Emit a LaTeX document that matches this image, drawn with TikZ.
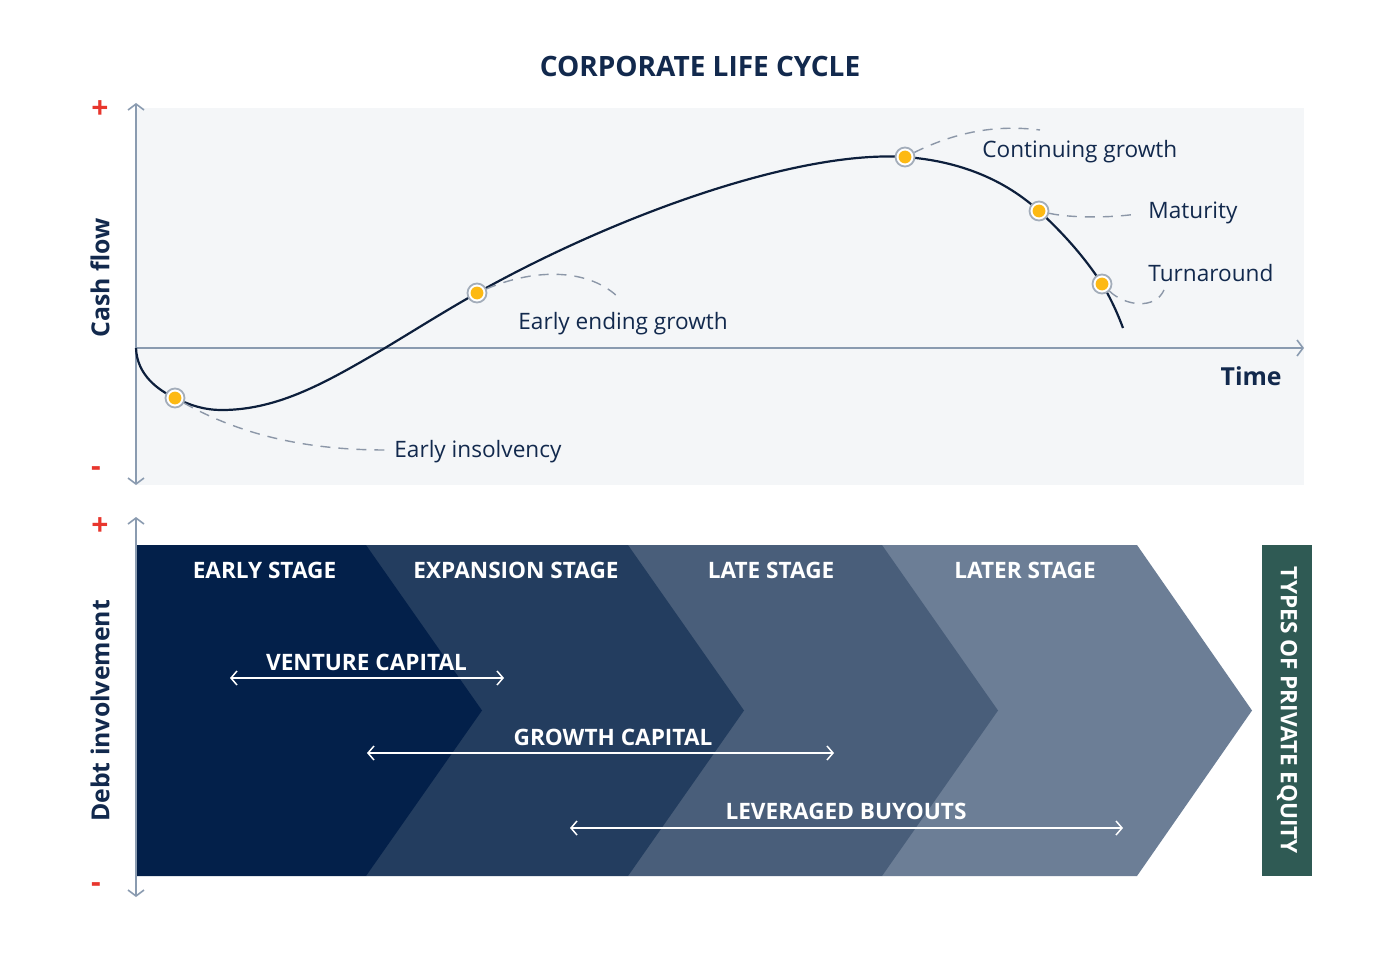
\documentclass[tikz,border=0pt]{standalone}
\usepackage{fontspec}
\setmainfont{Open Sans}
\usetikzlibrary{arrows.meta}
\definecolor{navy}{HTML}{12294D}
\definecolor{curvecol}{HTML}{0D1F3C}
\definecolor{panel}{HTML}{F4F6F8}
\definecolor{axiscol}{HTML}{8A9BB0}
\definecolor{dashcol}{HTML}{8C97A8}
\definecolor{plusred}{HTML}{E8362D}
\definecolor{dotyellow}{HTML}{FDB913}
\definecolor{dotring}{HTML}{A3ADBA}
\definecolor{stageA}{HTML}{03204A}
\definecolor{stageB}{HTML}{233D5F}
\definecolor{stageC}{HTML}{495E7A}
\definecolor{stageD}{HTML}{6C7E96}
\definecolor{peqgreen}{HTML}{2F5A54}
\tikzset{
  axisline/.style={draw=axiscol, line width=0.8pt, {Straight Barb[length=3pt,width=8pt]}-{Straight Barb[length=3pt,width=8pt]}},
  haxis/.style={draw=axiscol, line width=0.8pt, -{Straight Barb[length=3pt,width=8pt]}},
  lifedot/.style={circle, draw=dotring, fill=white, line width=0.9pt, minimum size=9.5pt, inner sep=0pt,
     path picture={\fill[dotyellow] (path picture bounding box.center) circle (3.2pt);}},
  leader/.style={draw=dashcol, line width=0.7pt, dash pattern=on 5pt off 4pt},
  lbl/.style={font=\fontsize{11.3}{13}\selectfont, text=navy, inner sep=0pt, anchor=west},
  axlbl/.style={font=\fontsize{12.4}{14}\selectfont\bfseries, text=navy, inner sep=0pt},
  sign/.style={font=\fontsize{15}{17}\selectfont\bfseries, text=plusred, inner sep=0pt},
  stagelbl/.style={font=\fontsize{11.3}{13}\selectfont\bfseries, text=white, inner sep=0pt},
  span/.style={draw=white, line width=0.75pt, {Straight Barb[length=3pt,width=7pt]}-{Straight Barb[length=3pt,width=7pt]}},
}
\begin{document}
\begin{tikzpicture}[x=0.5pt,y=-0.5pt]
\useasboundingbox (0,0) rectangle (1400,957);
\fill[white] (0,0) rectangle (1400,957);

% title
\node[font=\fontsize{14}{17}\selectfont\bfseries, text=navy, inner sep=0pt] (title) at (700,66) {CORPORATE LIFE CYCLE};

% ---------- top panel ----------
\fill[panel] (136,108) rectangle (1304,485);
\coordinate (vt1) at (136,103);
\coordinate (vb1) at (136,485);
\coordinate (hl) at (136,348);
\coordinate (hr) at (1304,348);
\draw[axisline] (vt1) -- (vb1);
\draw[haxis] (hl) -- (hr);

\node[sign] (p1) at (100,110) {+};
\node[sign] (m1) at (96,472) {-};
\node[axlbl, rotate=90] (cash) at (100,278) {Cash flow};
\node[axlbl, anchor=east] (time) at (1282,376) {Time};

% curve
\draw[curvecol, line width=1.1pt]
  (136,348) .. controls (137,375) and (158,390) .. (175,398)
  .. controls (192,406) and (205,410) .. (222,410)
  .. controls (280,410) and (330,380) .. (385,348)
  .. controls (415,330) and (445,311) .. (477,293)
  .. controls (620,213) and (800,150) .. (905,157)
  .. controls (960,161) and (1005,180) .. (1039,211)
  .. controls (1065,235) and (1085,258) .. (1102,284)
  .. controls (1110,297) and (1117,312) .. (1123,328);

% dots
\node[lifedot] (d1) at (175,398) {};
\node[lifedot] (d2) at (477,293) {};
\node[lifedot] (d3) at (905,157) {};
\node[lifedot] (d4) at (1039,211) {};
\node[lifedot] (d5) at (1102,284) {};

% labels
\node[lbl] (l1) at (394,452) {Early insolvency};
\node[lbl] (l2) at (518,324) {Early ending growth};
\node[lbl] (l3) at (982,152) {Continuing growth};
\node[lbl] (l4) at (1148,213) {Maturity};
\node[lbl] (l5) at (1148,273) {Turnaround};

\coordinate (e1) at (386,450);
\coordinate (e2) at (620,299);
\coordinate (e3) at (1040,130);
\coordinate (e4) at (1137,214);
\coordinate (e5) at (1164,290);
\draw[leader] (d1) .. controls (250,440) and (320,450) .. (e1);
\draw[leader] (d2) .. controls (535,268) and (590,268) .. (e2);
\draw[leader] (d3) .. controls (960,130) and (1000,125) .. (e3);
\draw[leader] (d4) .. controls (1070,218) and (1110,218) .. (e4);
\draw[leader] (d5) .. controls (1125,306) and (1155,310) .. (e5);

% ---------- bottom panel ----------
\fill[stageD] (882,545) -- (1137,545) -- (1252,710.5) -- (1137,876) -- (882,876) -- cycle;
\fill[stageC] (628,545) -- (882,545) -- (998,710.5) -- (882,876) -- (628,876) -- cycle;
\fill[stageB] (366,545) -- (628,545) -- (744,710.5) -- (628,876) -- (366,876) -- cycle;
\fill[stageA] (136,545) -- (366,545) -- (482,710.5) -- (366,876) -- (136,876) -- cycle;

\coordinate (vt2) at (136,517);
\coordinate (vb2) at (136,897);
\draw[axisline] (vt2) -- (vb2);
\node[sign] (p2) at (100,527) {+};
\node[sign] (m2) at (96,888) {-};
\node[axlbl, rotate=90] (debt) at (100,711) {Debt involvement};

\node[stagelbl] (s1) at (264.5,570) {EARLY STAGE};
\node[stagelbl] (s2) at (516,570) {EXPANSION STAGE};
\node[stagelbl] (s3) at (771,570) {LATE STAGE};
\node[stagelbl] (s4) at (1025,570) {LATER STAGE};

\node[stagelbl] (vc) at (366.5,662) {VENTURE CAPITAL};
\node[stagelbl] (gc) at (613,737) {GROWTH CAPITAL};
\node[stagelbl] (lb) at (846,811) {LEVERAGED BUYOUTS};
\coordinate (vca) at (230,678);
\coordinate (vcb) at (504,678);
\coordinate (gca) at (367,753);
\coordinate (gcb) at (834,753);
\coordinate (lba) at (570,828);
\coordinate (lbb) at (1123,828);
\draw[span] (vca) -- (vcb);
\draw[span] (gca) -- (gcb);
\draw[span] (lba) -- (lbb);

\fill[peqgreen] (1262,545) rectangle (1312,876);
\node[stagelbl, rotate=-90] (peq) at (1287,710.5) {TYPES OF PRIVATE EQUITY};
\end{tikzpicture}
\end{document}
